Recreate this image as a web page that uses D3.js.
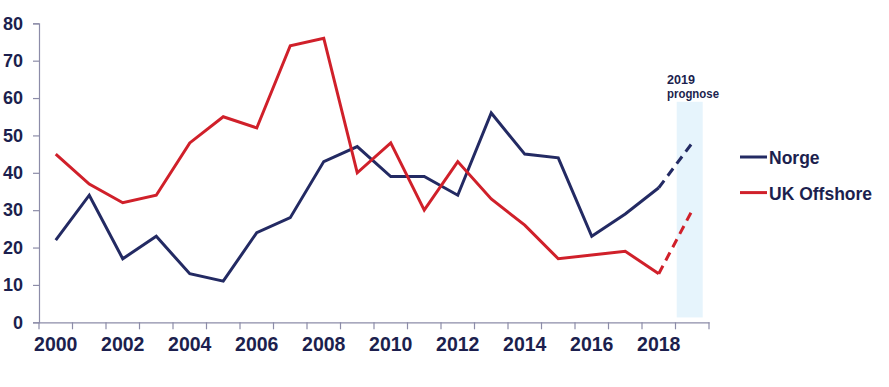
<!DOCTYPE html>
<meta charset="utf-8">
<script src="https://d3js.org/d3.v7.min.js"></script>
<body style="margin:0; background:#fff; font-family: 'Liberation Sans', Arial, sans-serif">
<div id="graph"></div>
</body>
<script>

    // Data
    var years = d3.range(2000, 2020);
    var tickYears = [2000, 2002, 2004, 2006, 2008, 2010, 2012, 2014, 2016, 2018];
    var norge = [22, 34, 17, 23, 13, 11, 24, 28, 43, 47, 39, 39, 34, 56, 45, 44, 23, 29, 36, 48];
    var ukOffshore = [45, 37, 32, 34, 48, 55, 52, 74, 76, 40, 48, 30, 43, 33, 26, 17, 18, 19, 13, 30];
    var yTicks = [0, 10, 20, 30, 40, 50, 60, 70, 80];
    var forecastYear = 2019;

    var textColor = "#1c1f4e";
    var series = [
        {name: "Norge", values: norge, color: "#232a63"},
        {name: "UK Offshore", values: ukOffshore, color: "#d0202a"}
    ];

    var margin = {left: 39, top: 23, right: 180, bottom: 65},
        width = 889, height = 387;

    var svg = d3.select("#graph")
        .append("svg")
        .attr("width", width)
        .attr("height", height);

    // Scales
    var x = d3.scaleBand()
        .domain(years)
        .range([margin.left, 709]);

    var y = d3.scaleLinear()
        .domain([0, 80])
        .range([322.3, 23.3]);

    // Forecast band
    svg.append("rect")
        .attr("x", x(forecastYear) + 1.2)
        .attr("y", y(59))
        .attr("width", x.bandwidth() - 7.5)
        .attr("height", y(1.3) - y(59))
        .style("fill", "#e6f4fc");

    // Condensed label above the band
    [["2019", 84, 28], ["prognose", 98, 52]].forEach(function (t) {
        svg.append("text")
            .attr("x", x(forecastYear) - 8.5)
            .attr("y", t[1])
            .attr("textLength", t[2])
            .attr("lengthAdjust", "spacingAndGlyphs")
            .style("font-weight", "bold")
            .style("font-size", "13.5px")
            .style("fill", textColor)
            .text(t[0]);
    });

    // Y axis
    var yAxis = svg.append("g")
        .attr("transform", "translate(" + margin.left + ",0)")
        .call(d3.axisLeft(y).tickValues(yTicks).tickSize(6).tickPadding(10));

    // X axis: ticks between categories, labels every second year
    var xAxis = svg.append("g")
        .attr("transform", "translate(0," + y(0) + ")")
        .call(d3.axisBottom(x).tickValues([]).tickSizeOuter(0));

    xAxis.selectAll(".between")
        .data(d3.range(years.length + 1))
        .enter()
        .append("line")
        .attr("x1", function (i) { return margin.left + i * x.step(); })
        .attr("x2", function (i) { return margin.left + i * x.step(); })
        .attr("y1", 0)
        .attr("y2", 7);

    xAxis.selectAll(".yearlabel")
        .data(tickYears)
        .enter()
        .append("text")
        .attr("x", function (d) { return x(d) + x.bandwidth() / 2; })
        .attr("y", 29)
        .attr("text-anchor", "middle")
        .text(function (d) { return d; });

    svg.selectAll(".domain, line").style("stroke", "#8c8ca8").style("stroke-width", 1.2);
    yAxis.selectAll("text")
        .style("font-size", "18px")
        .style("font-weight", "bold")
        .style("fill", textColor)
        .style("font-family", "'Liberation Sans', Arial, sans-serif");
    xAxis.selectAll("text")
        .style("font-size", "19.5px")
        .style("font-weight", "bold")
        .style("fill", textColor)
        .style("font-family", "'Liberation Sans', Arial, sans-serif");

    // Lines
    var line = d3.line()
        .x(function (d) { return x(d.year) + x.bandwidth() / 2; })
        .y(function (d) { return y(d.value); });

    series.forEach(function (s) {
        var pts = years.map(function (yr, i) { return {year: yr, value: s.values[i]}; });
        var actual = pts.filter(function (d) { return d.year < forecastYear; });
        var forecast = pts.slice(pts.length - 2);

        svg.append("path")
            .datum(actual)
            .attr("d", line)
            .style("fill", "none")
            .style("stroke", s.color)
            .style("stroke-width", 3);

        svg.append("path")
            .datum(forecast)
            .attr("d", line)
            .style("fill", "none")
            .style("stroke", s.color)
            .style("stroke-width", 3)
            .style("stroke-dasharray", "9,6");
    });

    // Legend
    var legend = svg.append("g")
        .attr("transform", "translate(740,157)");

    legend.selectAll("line")
        .data(series)
        .enter()
        .append("line")
        .attr("x1", 0)
        .attr("x2", 27)
        .attr("y1", function (d, i) { return i * 35.6; })
        .attr("y2", function (d, i) { return i * 35.6; })
        .style("stroke", function (d) { return d.color; })
        .style("stroke-width", 3);

    legend.selectAll("text")
        .data(series)
        .enter()
        .append("text")
        .attr("x", 29)
        .attr("y", function (d, i) { return i * 35.6 + 7; })
        .style("font-size", "17.5px")
        .style("font-weight", "bold")
        .style("fill", textColor)
        .text(function (d) { return d.name; });

</script>
